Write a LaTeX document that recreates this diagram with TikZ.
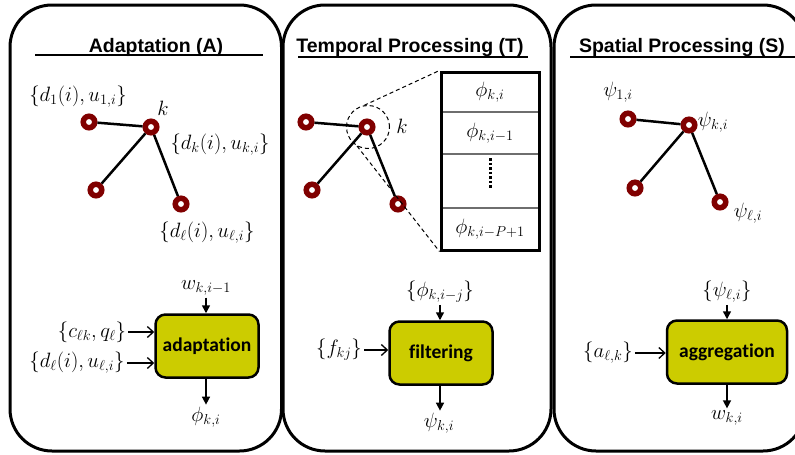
\documentclass[tikz,border=0pt]{standalone}
\usepackage{fontspec}
\newfontfamily\titlefont{Liberation Sans}
\newfontfamily\boxfont[Ligatures=NoCommon]{Carlito}
\usetikzlibrary{arrows.meta}
\definecolor{ringred}{RGB}{128,0,0}
\definecolor{boxyellow}{RGB}{204,204,0}
\definecolor{divgray}{RGB}{110,110,110}
\begin{document}
\begin{tikzpicture}[x=1pt,y=-1pt,
  panel/.style={draw=black, line width=3pt, rounded corners=42pt},
  paneltitle/.style={font=\titlefont\bfseries\fontsize{19.5}{22}\selectfont, inner sep=0pt, anchor=base},
  uline/.style={line width=1.2pt},
  ring/.style={circle, draw=ringred, line width=5.5pt, fill=white, minimum size=11.5pt, inner sep=0pt},
  link/.style={line width=2.5pt},
  lbl/.style={font=\fontsize{20.5}{24}\selectfont, inner sep=2pt},
  procbox/.style={draw, line width=2.5pt, rounded corners=10pt, fill=boxyellow, minimum width=103pt, minimum height=63pt, font=\boxfont\bfseries\fontsize{19.5}{22}\selectfont},
  varrow/.style={line width=1.5pt, -{Triangle[length=8pt,width=8pt]}},
  harrow/.style={line width=1.3pt, -{Straight Barb[length=6pt,width=11pt]}},
  cell/.style={draw=divgray, line width=1.2pt, minimum width=98pt, inner sep=0pt, font=\fontsize{20.5}{24}\selectfont},
  dashline/.style={line width=1pt, dash pattern=on 4pt off 3pt}
]
\useasboundingbox (0,0) rectangle (795,455);
\clip (0,0) rectangle (795,455);

% panels
\draw[panel] (10,5) rectangle (281.5,451);
\draw[panel] (283,5) rectangle (551,451);
\draw[panel] (554,5) rectangle (805,451);

% titles
\node[paneltitle] (ta) at (156,52) {Adaptation (A)};
\node[paneltitle] (tt) at (410,52) {Temporal Processing (T)};
\node[paneltitle] (ts) at (682,52) {Spatial Processing (S)};
\draw[uline] (35,55) -- (263,55);
\draw[uline] (298,57) -- (528,57);
\draw[uline] (570,57) -- (795,57);

% ---------------- Panel A ----------------
\node[ring] (a1) at (89,122) {};
\node[ring] (ak) at (151,127) {};
\node[ring] (a3) at (96,190) {};
\node[ring] (a4) at (181,204) {};
\draw[link] (a1) -- (ak);
\draw[link] (ak) -- (a3);
\draw[link] (ak) -- (a4);
\node[lbl] (la1) at (78,97) {$\{d_1(i),u_{1,i}\}$};
\node[lbl] (lak) at (163,108) {$k$};
\node[lbl] (lakd) at (220,145) {$\{d_k(i),u_{k,i}\}$};
\node[lbl] (la4) at (207,233) {$\{d_\ell(i),u_{\ell,i}\}$};

\node[procbox] (adapt) at (207,346) {adaptation};
\node[lbl] (win) at (206,288) {$w_{k,i-1}$};
\node[lbl] (phiout) at (206,417) {$\phi_{k,i}$};
\node[lbl] (cq) at (92,332) {$\{c_{\ell k},q_\ell\}$};
\node[lbl] (du) at (77,363) {$\{d_\ell(i),u_{\ell,i}\}$};
\draw[varrow] (win) -- (win |- adapt.north);
\draw[varrow] (win |- adapt.south) -- (win |- phiout.north);
\draw[harrow] (cq) -- (cq -| adapt.west);
\draw[harrow] (du) -- (du -| adapt.west);

% ---------------- Panel T ----------------
\node[ring] (t1) at (306,122) {};
\node[ring] (tk) at (367,127) {};
\node[ring] (t3) at (312,190) {};
\node[ring] (t4) at (398,204) {};
\draw[link] (t1) -- (tk);
\draw[link] (tk) -- (t3);
\draw[link] (tk) -- (t4);
\node[circle, draw, dashline, minimum size=43pt, inner sep=0pt] (kc) at (368,127) {};
\node[lbl] (ltk) at (402,126) {$k$};

\node[cell, minimum height=40pt] (c1) at (490,92) {$\phi_{k,i}$};
\node[cell, minimum height=42pt] (c2) at (490,133) {$\phi_{k,i-1}$};
\node[cell, minimum height=54pt] (c3) at (490,181) {};
\node[cell, minimum height=42pt] (c4) at (490,229) {$\phi_{k,i-P+1}$};
\node[draw, line width=3pt, minimum width=98pt, minimum height=178pt, inner sep=0pt] (mem) at (490,161) {};
\draw[line width=3pt, dash pattern=on 2.5pt off 2pt] ([yshift=-5pt]c3.north) -- ([yshift=19pt]c3.south);
\draw[dashline] (kc.100) -- (mem.north west);
\draw[dashline] (kc.240) -- (mem.south west);

\node[procbox] (filt) at (441,353) {filtering};
\node[lbl] (phij) at (440,292) {$\{\phi_{k,i-j}\}$};
\node[lbl] (fkj) at (339,350) {$\{f_{kj}\}$};
\node[lbl] (psiout) at (439,423) {$\psi_{k,i}$};
\draw[varrow] (phij) -- (phij |- filt.north);
\draw[varrow] (phij |- filt.south) -- (phij |- psiout.north);
\draw[harrow] (fkj) -- (fkj -| filt.west);

% ---------------- Panel S ----------------
\node[ring] (s1) at (628,119) {};
\node[ring] (sk) at (689,125) {};
\node[ring] (s3) at (635,188) {};
\node[ring] (s4) at (720,202) {};
\draw[link] (s1) -- (sk);
\draw[link] (sk) -- (s3);
\draw[link] (sk) -- (s4);
\node[lbl] (ls1) at (618,92) {$\psi_{1,i}$};
\node[lbl] (lsk) at (713,122) {$\psi_{k,i}$};
\node[lbl] (ls4) at (748,213) {$\psi_{\ell,i}$};

\node[procbox, minimum width=120pt] (aggr) at (727,352) {aggregation};
\node[lbl] (psil) at (727,292) {$\{\psi_{\ell,i}\}$};
\node[lbl] (alk) at (608,353) {$\{a_{\ell,k}\}$};
\node[lbl] (wout) at (727,418) {$w_{k,i}$};
\draw[varrow] (psil) -- (psil |- aggr.north);
\draw[varrow] (psil |- aggr.south) -- (psil |- wout.north);
\draw[harrow] (alk) -- (alk -| aggr.west);
\end{tikzpicture}
\end{document}
